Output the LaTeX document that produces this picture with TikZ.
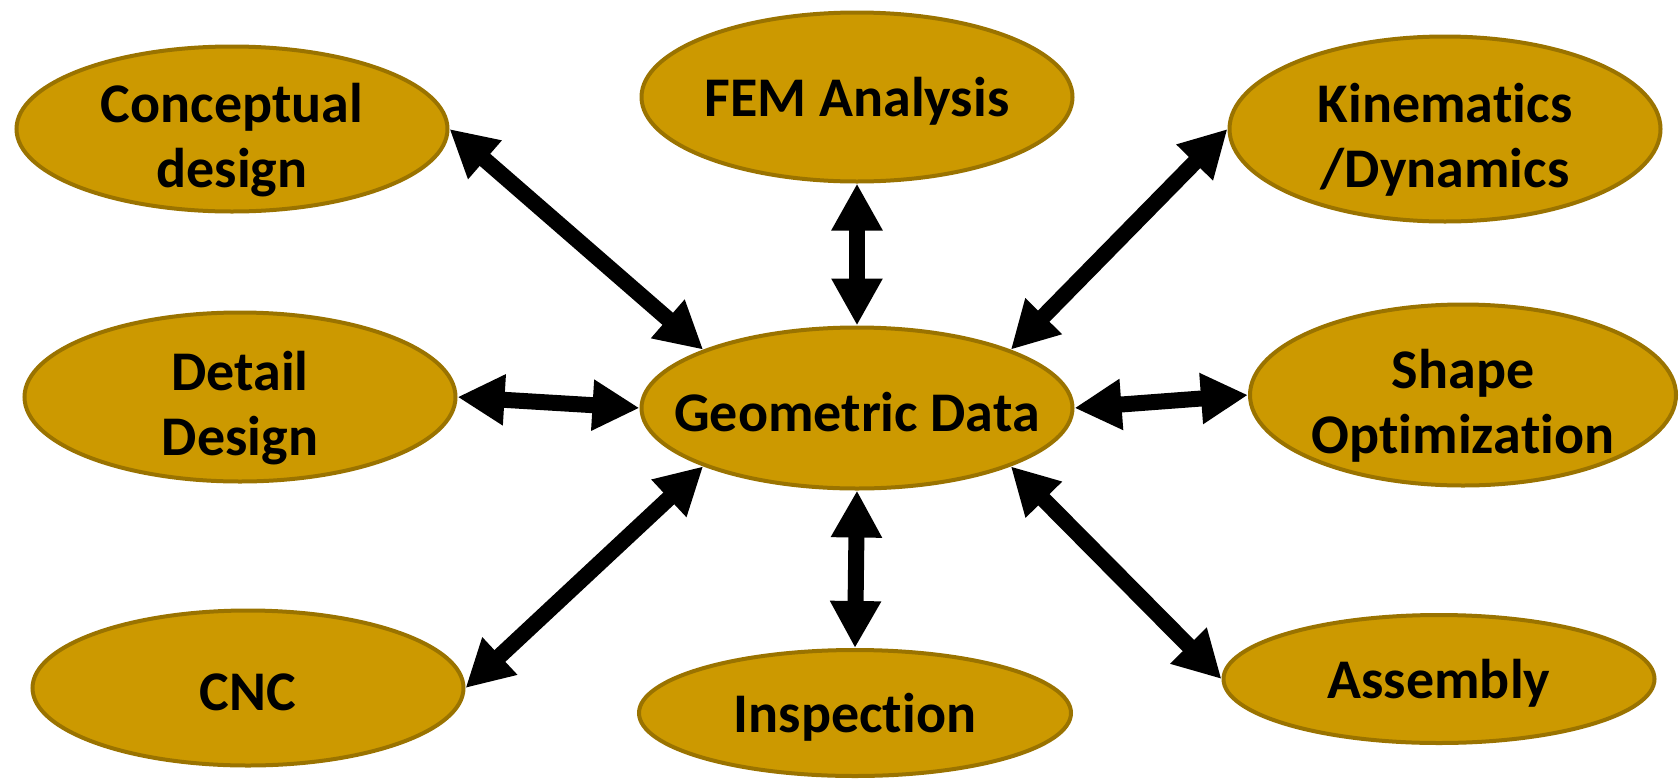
\documentclass[tikz,border=0pt]{standalone}
\usepackage{fontspec}
\setmainfont{Carlito}[Ligatures={NoCommon,NoRare,NoContextual}]
\usetikzlibrary{shapes.geometric,arrows.meta}
\definecolor{stepfill}{HTML}{CC9900}
\definecolor{stepedge}{HTML}{9A7300}
\tikzset{
  stepbox/.style={ellipse, draw=stepedge, fill=stepfill, line width=4pt,
    inner sep=0pt},
  steptext/.style={align=center, inner sep=0pt,
    font=\fontsize{56}{65}\selectfont\bfseries},
  oneline/.style={label={[steptext, yshift=-4pt]center:#1}},
  twoline/.style={label={[steptext, yshift=-11pt]center:#1}},
  link/.style={line width=16pt, draw=black,
    {Triangle[length=47pt,width=48pt]}-{Triangle[length=47pt,width=48pt]}}
}
\begin{document}
\begin{tikzpicture}[x=1pt,y=-1pt]
\useasboundingbox (0,0) rectangle (1679,780);

% process nodes
\node[stepbox, minimum width=431pt, minimum height=165pt,
  twoline={Conceptual\\design}] (concept) at (232,129) {};
\node[stepbox, minimum width=431pt, minimum height=169pt,
  oneline={FEM Analysis}] (fem) at (857,97) {};
\node[stepbox, minimum width=431pt, minimum height=185pt,
  twoline={Kinema\kern0pt tics\\/Dynamics}] (kin) at (1445,129) {};
\node[stepbox, minimum width=431pt, minimum height=169pt,
  twoline={Detail\\Design}] (detail) at (240,397) {};
\node[stepbox, minimum width=431pt, minimum height=161pt,
  oneline={Geometric Data}] (geo) at (857,408) {};
\node[stepbox, minimum width=426pt, minimum height=181pt,
  twoline={Shape\\Optimiza\kern0pt tion}] (shape) at (1463,395) {};
\node[stepbox, minimum width=431pt, minimum height=155pt,
  oneline={CNC}] (cnc) at (248,688) {};
\node[stepbox, minimum width=432pt, minimum height=126pt,
  oneline={Inspection}] (insp) at (855,713) {};
\node[stepbox, minimum width=431pt, minimum height=128pt,
  oneline={Assembly}] (asm) at (1439,679) {};

% two-way links to the central data node
\draw[link] (concept.east) -- (geo.north west);
\draw[link] (fem.south) -- (geo.north);
\draw[link] (kin.west) -- (geo.north east);
\draw[link] (detail.east) -- (geo.west);
\draw[link] (geo.east) -- (shape.west);
\draw[link] (cnc.east) -- (geo.south west);
\draw[link] (geo.south) -- (insp.north);
\draw[link] (geo.south east) -- (asm.west);
\end{tikzpicture}
\end{document}
